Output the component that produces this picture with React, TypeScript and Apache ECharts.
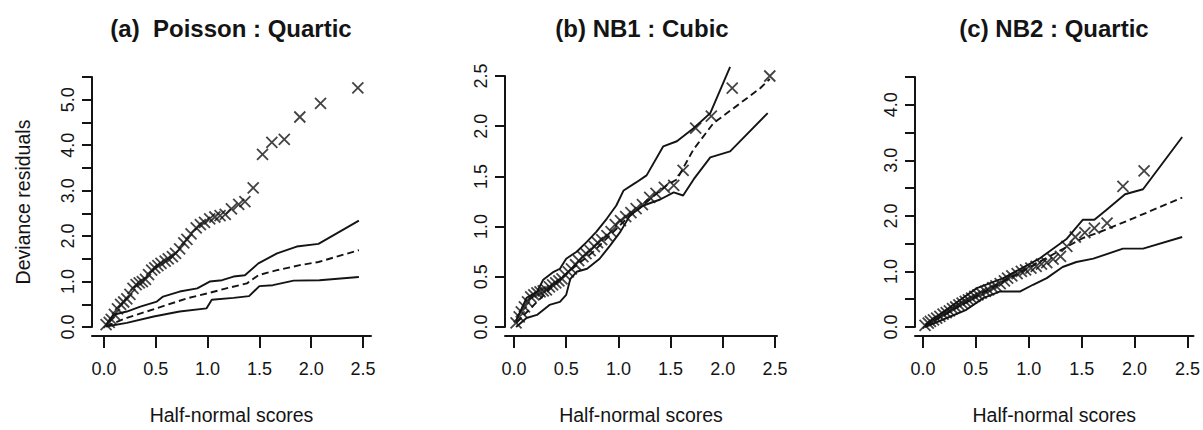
import React, { useEffect, useRef } from "react";
import * as echarts from "echarts";

// Half-normal scores (shared x positions of the residual markers)
const SCORES = [0.02, 0.05, 0.07, 0.10, 0.13, 0.16, 0.19, 0.22, 0.25, 0.28, 0.31, 0.34, 0.37, 0.40, 0.43, 0.46, 0.49, 0.52, 0.55, 0.59, 0.62, 0.66, 0.69, 0.73, 0.77, 0.80, 0.84, 0.89, 0.93, 0.97, 1.02, 1.07, 1.12, 1.17, 1.23, 1.30, 1.36, 1.44, 1.53, 1.62, 1.74, 1.89, 2.09, 2.45];

// (a) Poisson : Quartic
const A_RES = [0.05, 0.10, 0.17, 0.28, 0.40, 0.50, 0.55, 0.62, 0.72, 0.85, 0.93, 0.97, 1.00, 1.05, 1.15, 1.25, 1.30, 1.35, 1.40, 1.45, 1.50, 1.55, 1.62, 1.72, 1.85, 1.93, 2.05, 2.18, 2.25, 2.30, 2.38, 2.42, 2.45, 2.48, 2.60, 2.70, 2.76, 3.06, 3.80, 4.06, 4.13, 4.62, 4.92, 5.26];
const A_UPPER = [[0.02, 0.05], [0.09, 0.27], [0.22, 0.34], [0.35, 0.45], [0.51, 0.56], [0.57, 0.67], [0.73, 0.78], [0.90, 0.85], [1.02, 1.0], [1.14, 1.03], [1.25, 1.11], [1.36, 1.14], [1.49, 1.40], [1.67, 1.62], [1.86, 1.77], [2.07, 1.83], [2.46, 2.34]];
const A_MID = [[0.02, 0.02], [0.22, 0.2], [0.41, 0.34], [0.6, 0.48], [0.8, 0.63], [1.0, 0.74], [1.18, 0.85], [1.38, 0.96], [1.49, 1.14], [1.67, 1.25], [1.89, 1.36], [2.07, 1.43], [2.46, 1.69]];
const A_LOW = [[0.02, 0.01], [0.22, 0.09], [0.48, 0.23], [0.73, 0.34], [0.99, 0.41], [1.04, 0.6], [1.25, 0.64], [1.40, 0.68], [1.50, 0.9], [1.63, 0.92], [1.83, 1.02], [2.08, 1.03], [2.46, 1.1]];

// (b) NB1 : Cubic
const B_RES = [0.04, 0.10, 0.15, 0.20, 0.25, 0.30, 0.32, 0.34, 0.35, 0.36, 0.37, 0.40, 0.42, 0.44, 0.46, 0.48, 0.52, 0.55, 0.58, 0.62, 0.66, 0.70, 0.73, 0.76, 0.80, 0.84, 0.87, 0.91, 0.95, 1.02, 1.06, 1.10, 1.14, 1.18, 1.22, 1.29, 1.33, 1.39, 1.41, 1.56, 1.98, 2.10, 2.38, 2.50];
const B_UPPER = [[0.02, 0.06], [0.12, 0.29], [0.22, 0.35], [0.28, 0.47], [0.38, 0.55], [0.44, 0.58], [0.50, 0.68], [0.60, 0.75], [0.70, 0.85], [0.79, 0.95], [0.89, 1.08], [0.98, 1.21], [1.05, 1.36], [1.17, 1.44], [1.27, 1.51], [1.43, 1.80], [1.56, 1.85], [1.72, 1.98], [1.88, 2.13], [2.07, 2.59]];
const B_MID = [[0.02, 0.04], [0.44, 0.48], [0.76, 0.75], [1.08, 1.08], [1.30, 1.27], [1.46, 1.41], [1.56, 1.47], [1.72, 1.77], [1.91, 2.03], [2.13, 2.2], [2.36, 2.38], [2.45, 2.47]];
const B_LOW = [[0.02, 0.0], [0.12, 0.09], [0.22, 0.12], [0.34, 0.22], [0.44, 0.25], [0.50, 0.32], [0.54, 0.48], [0.60, 0.55], [0.70, 0.58], [0.82, 0.68], [0.92, 0.81], [1.02, 0.95], [1.11, 1.11], [1.24, 1.21], [1.40, 1.27], [1.53, 1.34], [1.62, 1.31], [1.72, 1.47], [1.88, 1.69], [2.07, 1.75], [2.43, 2.13]];

// (c) NB2 : Quartic
const C_RES = [0.03, 0.07, 0.10, 0.13, 0.16, 0.19, 0.23, 0.26, 0.29, 0.33, 0.36, 0.40, 0.43, 0.46, 0.49, 0.52, 0.55, 0.58, 0.61, 0.64, 0.67, 0.71, 0.74, 0.78, 0.83, 0.88, 0.92, 0.96, 1.00, 1.03, 1.06, 1.09, 1.13, 1.16, 1.22, 1.27, 1.45, 1.62, 1.70, 1.78, 1.87, 2.53, 2.81];
const C_UPPER = [[0.02, 0.04], [0.51, 0.70], [0.76, 0.88], [1.10, 1.23], [1.23, 1.41], [1.36, 1.59], [1.51, 1.93], [1.62, 1.93], [1.73, 2.10], [1.91, 2.39], [2.08, 2.48], [2.45, 3.42]];
const C_MID = [[0.02, 0.02], [0.5, 0.55], [1.04, 1.11], [1.51, 1.60], [1.67, 1.71], [1.98, 1.95], [2.45, 2.33]];
const C_LOW = [[0.02, 0.0], [0.41, 0.31], [0.57, 0.52], [0.73, 0.64], [0.92, 0.64], [1.04, 0.76], [1.17, 0.88], [1.32, 1.08], [1.45, 1.17], [1.61, 1.23], [1.89, 1.41], [2.08, 1.41], [2.45, 1.62]];

const X_TICKS = [0, 0.5, 1.0, 1.5, 2.0, 2.5];
const A_Y_LABELS = [0, 1, 2, 3, 4, 5];
const B_Y_LABELS = [0, 0.5, 1.0, 1.5, 2.0, 2.5];
const C_Y_LABELS = [0, 1, 2, 3, 4];

const TITLES = ["(a)  Poisson : Quartic", "(b) NB1 : Cubic", "(c) NB2 : Quartic"];
const X_NAME = "Half-normal scores";
const Y_NAME = "Deviance residuals";

const INK = "#141414";
const FONT = "'Liberation Sans', Arial, Helvetica, sans-serif";

export default function App() {
  const ref = useRef<HTMLDivElement>(null);
  useEffect(() => {
    if (!ref.current) return;
    const chart = echarts.init(ref.current, null, { renderer: "svg" });

    const panels = [
      { grid: { left: 92, top: 77, width: 279, height: 253 }, xmin: -0.116, xmax: 2.577, ymax: 5.5, yLabels: A_Y_LABELS, res: A_RES, up: A_UPPER, mid: A_MID, low: A_LOW, yName: Y_NAME },
      { grid: { left: 505, top: 76, width: 272, height: 253 }, xmin: -0.086, xmax: 2.519, ymax: 2.5, yLabels: B_Y_LABELS, res: B_RES, up: B_UPPER, mid: B_MID, low: B_LOW, yName: "" },
      { grid: { left: 915, top: 77, width: 279, height: 252 }, xmin: -0.075, xmax: 2.557, ymax: 4.5, yLabels: C_Y_LABELS, res: C_RES, up: C_UPPER, mid: C_MID, low: C_LOW, yName: "" },
    ];

    const axisLine = { show: true, onZero: false, lineStyle: { color: INK, width: 2 } };
    const labelStyle = { color: INK, fontFamily: FONT, fontSize: 18 };
    const crossX = "path://M0,0L10,10M10,0L0,10";

    const series: any[] = [];
    panels.forEach((p, i) => {
      series.push({
        type: "scatter",
        xAxisIndex: i,
        yAxisIndex: i,
        symbol: crossX,
        symbolSize: 11,
        itemStyle: { color: "transparent", borderColor: INK, borderWidth: 1.8 },
        data: p.res.map((v, k) => [SCORES[k], v]),
        z: 3,
      });
      const lines: [number[][], string][] = [[p.up, "solid"], [p.mid, "dashed"], [p.low, "solid"]];
      lines.forEach(([d, t]) => {
        series.push({
          type: "line",
          xAxisIndex: i,
          yAxisIndex: i,
          showSymbol: false,
          clip: false,
          lineStyle: { color: INK, width: 1.9, type: t === "dashed" ? [7, 4] : "solid" },
          data: d,
          z: 2,
        });
      });
    });

    chart.setOption({
      animation: false,
      backgroundColor: "#ffffff",
      grid: panels.map((p) => ({ ...p.grid, containLabel: false })),
      xAxis: panels.map((p, i) => ({
        type: "value",
        gridIndex: i,
        min: p.xmin,
        max: p.xmax,
        offset: 9,
        axisLine,
        axisTick: { show: true, length: 12, customValues: X_TICKS, lineStyle: { color: INK, width: 2 } },
        axisLabel: { customValues: X_TICKS, formatter: (v: number) => v.toFixed(1), margin: 24, ...labelStyle },
        splitLine: { show: false },
        name: X_NAME,
        nameLocation: "middle",
        nameGap: 69,
        nameTextStyle: { color: INK, fontFamily: FONT, fontSize: 19.5 },
      })),
      yAxis: panels.map((p, i) => ({
        type: "value",
        gridIndex: i,
        min: 0,
        max: p.ymax,
        interval: 0.5,
        axisLine,
        axisTick: { show: true, length: 10, lineStyle: { color: INK, width: 2 } },
        axisLabel: { customValues: p.yLabels, rotate: 90, formatter: (v: number) => v.toFixed(1), margin: 15, ...labelStyle },
        splitLine: { show: false },
        name: p.yName,
        nameLocation: "middle",
        nameGap: 59,
        nameTextStyle: { color: INK, fontFamily: FONT, fontSize: 19.5 },
      })),
      graphic: [
        { type: "text", x: 231, y: 28, style: { text: TITLES[0], align: "center", verticalAlign: "middle", fill: INK, font: `bold 24px ${FONT}` } },
        { type: "text", x: 642, y: 28, style: { text: TITLES[1], align: "center", verticalAlign: "middle", fill: INK, font: `bold 24px ${FONT}` } },
        { type: "text", x: 1054, y: 28, style: { text: TITLES[2], align: "center", verticalAlign: "middle", fill: INK, font: `bold 24px ${FONT}` } },
      ],
      series,
    });
    return () => chart.dispose();
  }, []);
  return <div ref={ref} style={{ position: "fixed", left: 0, top: 0, width: 1203, height: 430, background: "#fff" }} />;
}
